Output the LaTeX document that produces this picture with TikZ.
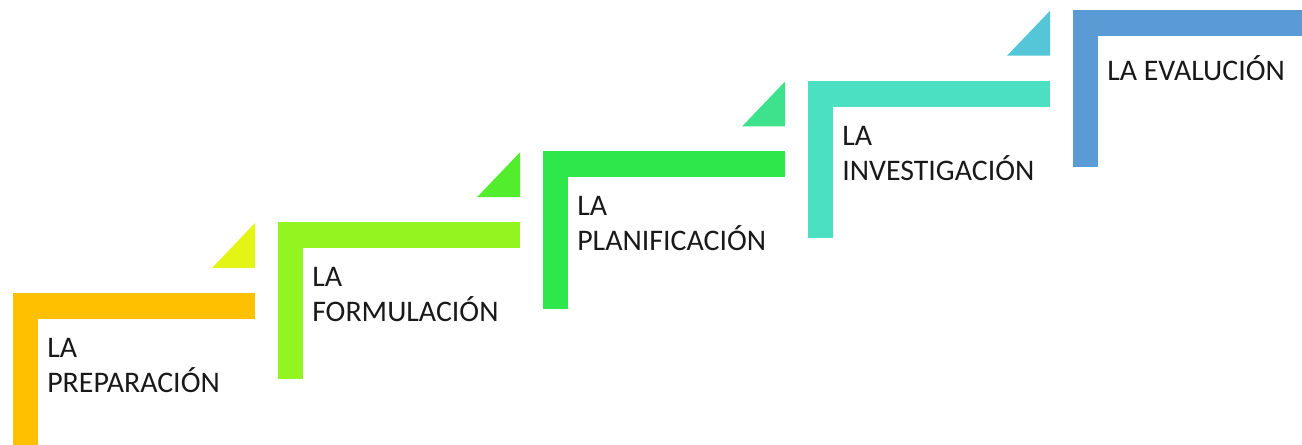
\documentclass[tikz,border=0pt]{standalone}
\usepackage{fontspec}
\setmainfont{Carlito}
\usetikzlibrary{positioning}
\definecolor{stepOrange}{HTML}{FFC000}
\definecolor{stepLime}{HTML}{92F51F}
\definecolor{stepGreen}{HTML}{2EE84B}
\definecolor{stepTeal}{HTML}{4BE0C2}
\definecolor{stepBlue}{HTML}{5B9BD5}
\definecolor{triYellow}{HTML}{E2F514}
\definecolor{triGreen}{HTML}{52EE2E}
\definecolor{triMint}{HTML}{3EE28C}
\definecolor{triCyan}{HTML}{55C6D8}
\tikzset{
  steplabel/.style={anchor=north west, inner sep=0pt, align=left, text=black!90,
    font=\fontsize{22.4}{26.3}\selectfont}
}

\begin{document}
\begin{tikzpicture}[x=0.75pt, y=-0.75pt]
            \useasboundingbox (0,0) rectangle (1302,445);
            \clip (0,0) rectangle (1302,445);
            % Stair steps: bar on top, post on the left
            \foreach \n/\col/\txt in {0/stepOrange/{LA\\PREPARACIÓN}, 1/stepLime/{LA\\FORMULACIÓN},
                                      2/stepGreen/{LA\\PLANIFICACIÓN}, 3/stepTeal/{LA\\INVESTIGACIÓN},
                                      4/stepBlue/{LA EVALUCIÓN}} {
                \pgfmathsetmacro{\L}{13+265*\n}
                \pgfmathsetmacro{\T}{293-70.75*\n}
                \fill[\col] (\L,\T) rectangle (\L+242,\T+26);
                \fill[\col] (\L,\T) rectangle (\L+25,\T+157);
                \node[steplabel] (lbl\n) at (\L+34,\T+45) {\txt};
            }
            % Corner triangles above each bar
            \foreach \n/\col in {0/triYellow, 1/triGreen, 2/triMint, 3/triCyan} {
                \pgfmathsetmacro{\L}{13+265*\n}
                \pgfmathsetmacro{\T}{293-70.75*\n}
                \fill[\col] (\L+199,\T-25) -- (\L+242,\T-25) -- (\L+242,\T-70) -- cycle;
            }
        \end{tikzpicture}
\end{document}
